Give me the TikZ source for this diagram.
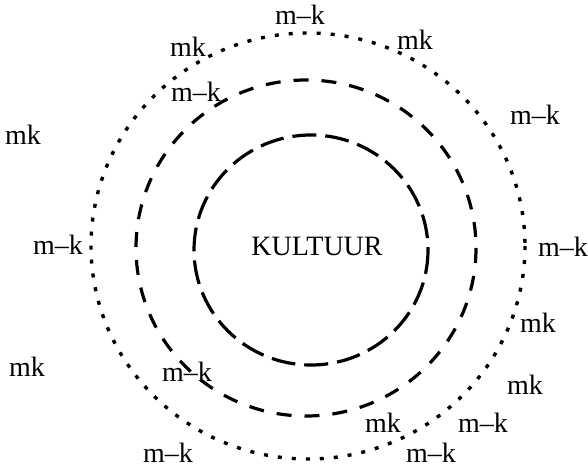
\documentclass[tikz,border=0pt]{standalone}
\usepackage{fontspec}
\setmainfont{Liberation Serif}
\begin{document}
\begin{tikzpicture}[x=1pt,y=-1pt,
  lbl/.style={inner sep=0pt,font=\fontsize{28}{32}\selectfont},
  ring/.style={line width=3.2pt,line cap=butt},
  innerring/.style={ring,dash pattern=on 24pt off 9pt},
  midring/.style={ring,dash pattern=on 15pt off 13pt},
  outerring/.style={ring,line width=3.4pt,dash pattern=on 4pt off 10pt}]
\useasboundingbox[fill=white] (0,0) rectangle (588,470);
\draw[innerring] (311,250) ellipse [x radius=117, y radius=115];
\draw[midring] (306,248) ellipse [x radius=170, y radius=168];
\draw[outerring] (308,246) ellipse [x radius=217, y radius=213];
\node[lbl] (kult) at (317,246) {KULTUUR};
\node[lbl] (t1) at (300,15) {m–k};
\node[lbl] (t2) at (188,47) {mk};
\node[lbl] (t3) at (415,40) {mk};
\node[lbl] (t4) at (196,92) {m–k};
\node[lbl] (t5) at (23,135) {mk};
\node[lbl] (t6) at (535,115) {m–k};
\node[lbl] (t7) at (58,245) {m–k};
\node[lbl] (t8) at (563,247) {m–k};
\node[lbl] (t9) at (538,323) {mk};
\node[lbl] (t10) at (27,367) {mk};
\node[lbl] (t11) at (187,372) {m–k};
\node[lbl] (t12) at (525,385) {mk};
\node[lbl] (t13) at (383,423) {mk};
\node[lbl] (t14) at (483,423) {m–k};
\node[lbl] (t15) at (168,453) {m–k};
\node[lbl] (t16) at (431,453) {m–k};
\end{tikzpicture}
\end{document}
